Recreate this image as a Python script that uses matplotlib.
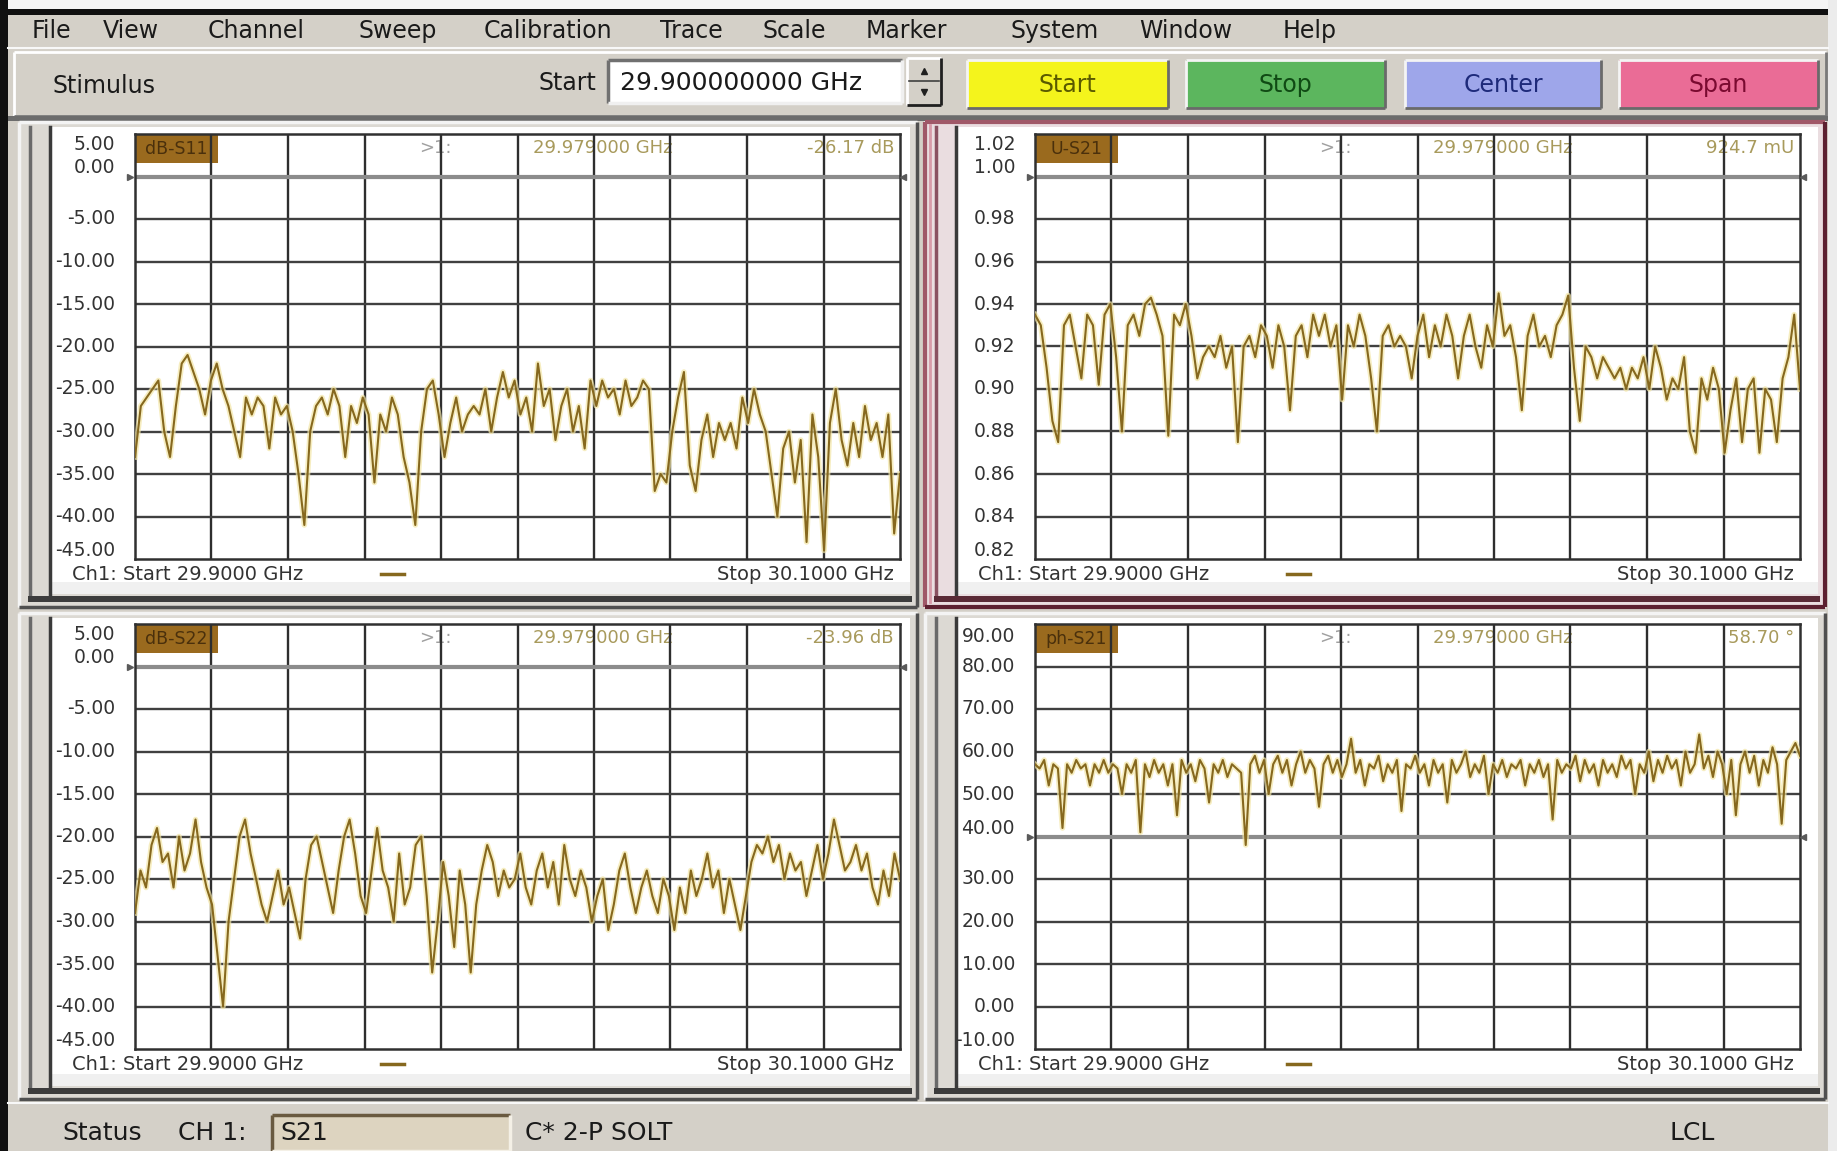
import numpy as np
import matplotlib
matplotlib.use('Agg')
import matplotlib.pyplot as plt
from matplotlib.patches import Rectangle
import matplotlib.transforms as mtransforms

# ---------------- data ----------------
f_start, f_stop = 29.9, 30.1

s11_db = [-33, -27, -26, -25, -24, -30, -33, -27, -22, -21, -23, -25, -28, -24, -22, -25, -27, -30, -33, -26,
          -28, -26, -27, -32, -26, -28, -27, -30, -35, -41, -30, -27, -26, -28, -25, -27, -33, -27, -29, -26,
          -28, -36, -28, -30, -26, -28, -33, -36, -41, -30, -25, -24, -28, -33, -29, -26, -30, -28, -27, -28,
          -25, -30, -26, -23, -26, -24, -28, -26, -30, -22, -27, -25, -31, -27, -25, -30, -27, -32, -24, -27,
          -24, -26, -25, -28, -24, -27, -26, -24, -25, -37, -35, -36, -30, -26, -23, -34, -37, -31, -28, -33,
          -29, -31, -29, -32, -26, -29, -25, -28, -30, -35, -40, -32, -30, -36, -31, -43, -28, -33, -44, -29,
          -25, -31, -34, -29, -33, -27, -31, -29, -33, -28, -42, -35]

s21_lin = [0.935, 0.930, 0.910, 0.885, 0.875, 0.930, 0.935, 0.920, 0.905, 0.935, 0.930, 0.902, 0.935, 0.940,
           0.915, 0.880, 0.930, 0.935, 0.925, 0.940, 0.943, 0.935, 0.925, 0.878, 0.935, 0.930, 0.940, 0.925,
           0.905, 0.915, 0.920, 0.915, 0.925, 0.910, 0.920, 0.875, 0.920, 0.925, 0.915, 0.930, 0.925, 0.910,
           0.930, 0.920, 0.890, 0.925, 0.930, 0.915, 0.935, 0.925, 0.935, 0.920, 0.930, 0.895, 0.930, 0.920,
           0.935, 0.925, 0.905, 0.880, 0.925, 0.930, 0.920, 0.925, 0.920, 0.905, 0.925, 0.935, 0.915, 0.930,
           0.920, 0.935, 0.925, 0.905, 0.925, 0.935, 0.920, 0.910, 0.930, 0.920, 0.945, 0.925, 0.930, 0.915,
           0.890, 0.925, 0.935, 0.920, 0.925, 0.915, 0.930, 0.935, 0.944, 0.910, 0.885, 0.920, 0.915, 0.905,
           0.915, 0.910, 0.905, 0.910, 0.900, 0.910, 0.905, 0.915, 0.900, 0.920, 0.910, 0.895, 0.905, 0.900,
           0.915, 0.880, 0.870, 0.905, 0.895, 0.910, 0.900, 0.870, 0.890, 0.905, 0.875, 0.900, 0.905, 0.870,
           0.900, 0.895, 0.875, 0.905, 0.915, 0.935, 0.900]

s22_db = [-29, -24, -26, -21, -19, -23, -22, -26, -20, -24, -22, -18, -23, -26, -28, -34, -40, -30, -25, -20,
          -18, -22, -25, -28, -30, -27, -24, -28, -26, -29, -32, -25, -21, -20, -23, -26, -29, -24, -20, -18,
          -22, -27, -29, -24, -19, -24, -26, -30, -22, -28, -26, -21, -20, -27, -36, -30, -23, -27, -33, -24,
          -28, -36, -28, -24, -21, -23, -27, -24, -26, -25, -22, -26, -28, -24, -22, -26, -23, -28, -21, -25,
          -27, -24, -26, -30, -27, -25, -31, -28, -24, -22, -26, -29, -26, -24, -27, -29, -25, -27, -31, -26,
          -29, -24, -27, -25, -22, -26, -24, -29, -25, -28, -31, -27, -23, -21, -22, -20, -23, -21, -25, -22,
          -24, -23, -27, -24, -21, -25, -22, -18, -21, -24, -23, -21, -24, -22, -26, -28, -24, -27, -22, -25]

s21_phase = [57, 56, 58, 52, 57, 56, 42, 57, 55, 58, 56, 57, 52, 57, 55, 58, 55, 57, 56, 50,
             57, 55, 58, 41, 57, 54, 58, 55, 57, 52, 57, 45, 58, 55, 57, 53, 58, 56, 48, 57,
             55, 58, 54, 57, 56, 55, 38, 57, 59, 55, 58, 50, 57, 59, 55, 58, 52, 57, 60, 55,
             58, 56, 47, 57, 59, 55, 58, 54, 57, 63, 55, 58, 52, 57, 56, 59, 53, 57, 55, 58,
             46, 57, 56, 59, 55, 57, 52, 58, 55, 57, 48, 58, 55, 57, 60, 54, 57, 55, 59, 50,
             57, 55, 58, 54, 57, 56, 58, 52, 57, 55, 58, 54, 57, 44, 58, 55, 57, 56, 59, 53,
             58, 55, 57, 52, 58, 55, 57, 54, 59, 56, 58, 50, 57, 55, 60, 53, 58, 55, 59, 56,
             58, 52, 60, 55, 57, 64, 56, 59, 54, 60, 57, 50, 58, 45, 57, 60, 55, 59, 52, 58,
             55, 61, 57, 43, 58, 60, 62, 59]

menu_items = ["File", "View", "Channel", "Sweep", "Calibration", "Trace", "Scale", "Marker", "System",
              "Window", "Help"]
button_labels = ["Start", "Stop", "Center", "Span"]

panel_titles = ["dB-S11", "U-S21", "dB-S22", "ph-S21"]
marker_freq = "29.979000 GHz"
marker_values = ["-26.17 dB", "924.7 mU", "-23.96 dB", "58.70 \u00b0"]
tick_dbm = [5, 0, -5, -10, -15, -20, -25, -30, -35, -40, -45]
tick_lin = [1.02, 1.00, 0.98, 0.96, 0.94, 0.92, 0.90, 0.88, 0.86, 0.84, 0.82]
tick_ph = [90, 80, 70, 60, 50, 40, 30, 20, 10, 0, -10]

# ---------------- layout ----------------
W, H = 1837, 1151
fig = plt.figure(figsize=(W / 100, H / 100), dpi=100)
fig.patch.set_facecolor('#d4d0c8')
bg = fig.add_axes([0, 0, 1, 1])
bg.set_xlim(0, W)
bg.set_ylim(H, 0)
bg.axis('off')
bg.set_zorder(0)

FONT = 'DejaVu Sans'


def rect(x0, y0, x1, y1, fc, ec='none', lw=0, z=1):
    bg.add_patch(Rectangle((x0, y0), x1 - x0, y1 - y0, facecolor=fc, edgecolor=ec, linewidth=lw, zorder=z))


def bevel(x0, y0, x1, y1, light='#ffffff', dark='#808080', lw=2.0, z=2):
    bg.plot([x0, x1], [y0, y0], color=light, lw=lw, zorder=z, solid_capstyle='butt')
    bg.plot([x0, x0], [y0, y1], color=light, lw=lw, zorder=z, solid_capstyle='butt')
    bg.plot([x0, x1], [y1, y1], color=dark, lw=lw, zorder=z, solid_capstyle='butt')
    bg.plot([x1, x1], [y0, y1], color=dark, lw=lw, zorder=z, solid_capstyle='butt')


# window edges
rect(0, 0, W, 9, '#f4f4f4', z=1)
rect(0, 9, W, 15, '#101010', z=2)
rect(0, 0, 8, H, '#101010', z=2)
rect(1828, 0, W, H, '#ececec', z=2)

# menu bar
menu_x = [32, 103, 208, 358, 484, 660, 763, 866, 1011, 1139, 1283]
for lbl, x in zip(menu_items, menu_x):
    bg.text(x, 31, lbl, fontsize=17, family=FONT, color='#1a1a1a', va='center', ha='left', zorder=3)
bg.plot([8, 1828], [48, 48], color='#f8f8f8', lw=1.5, zorder=2)

# toolbar
rect(14, 52, 1826, 116, '#d4d0c8', z=1)
bevel(14, 52, 1826, 116, light='#ffffff', dark='#7a7a7a', lw=2)
bg.text(52, 86, "Stimulus", fontsize=17, family=FONT, color='#1a1a1a', va='center', zorder=3)
bg.text(596, 83, "Start", fontsize=17, family=FONT, color='#1a1a1a', va='center', ha='right', zorder=3)
rect(608, 60, 902, 103, '#ffffff', z=2)
bevel(608, 60, 902, 103, light='#707070', dark='#f0f0f0', lw=2.5, z=3)
bg.text(620, 83, "29.900000000 GHz", fontsize=18, family=FONT, color='#1a1a1a', va='center', zorder=4)
rect(907, 58, 941, 105, '#d4d0c8', z=2)
bevel(907, 58, 941, 105, light='#ffffff', dark='#202020', lw=2, z=3)
bg.plot([909, 939], [81, 81], color='#404040', lw=1.2, zorder=3)
bg.plot([924], [71], marker='^', ms=5, color='#202020', zorder=4)
bg.plot([924], [92], marker='v', ms=5, color='#202020', zorder=4)

btn_x = [(967, 1168), (1186, 1385), (1405, 1601), (1619, 1818)]
btn_fc = ['#f4f41c', '#5cb65e', '#9ea6ea', '#ea6c96']
btn_tc = ['#5a5a00', '#104a14', '#1e2a7a', '#7a0a30']
for lbl, (x0, x1), fc, tc in zip(button_labels, btn_x, btn_fc, btn_tc):
    rect(x0, 60, x1, 108, fc, z=2)
    bevel(x0, 60, x1, 108, light='#f4f4f4', dark='#6a6a6a', lw=2, z=3)
    bg.text((x0 + x1) / 2, 85, lbl, fontsize=17, family=FONT, color=tc, va='center', ha='center', zorder=4)

rect(8, 116, 1828, 121, '#6c6c6c', z=2)

# panels
panels = [
    dict(frame=(18, 121, 918, 608), grid=(135, 134, 900, 559), active=False),
    dict(frame=(924, 121, 1826, 608), grid=(1035, 134, 1800, 559), active=True),
    dict(frame=(18, 612, 918, 1100), grid=(135, 624, 900, 1049), active=False),
    dict(frame=(924, 612, 1826, 1100), grid=(1035, 624, 1800, 1049), active=False),
]

series = [s11_db, s21_lin, s22_db, s21_phase]
ticks = [tick_dbm, tick_lin, tick_dbm, tick_ph]
ref_vals = [0, 1.00, 0, 40]
# per-panel vertical nudges (pixels, up positive) for labels that would collide
label_nudge = [
    {0: -11, 1: 9, 10: 9},
    {0: -11, 1: 9, 10: 9},
    {0: -11, 1: 9, 10: 9},
    {0: -13, 5: 8, 10: 8},
]

for i, p in enumerate(panels):
    fx0, fy0, fx1, fy1 = p['frame']
    gx0, gy0, gx1, gy1 = p['grid']
    gw, gh = gx1 - gx0, gy1 - gy0
    # frame
    if p['active']:
        rect(fx0, fy0, fx1, fy1, '#eadde0', z=1)
        bevel(fx0 + 1, fy0 + 1, fx1 - 1, fy1 - 1, light='#a05868', dark='#5c2030', lw=3, z=2)
        bg.plot([fx0 + 6, fx0 + 6], [fy0 + 4, fy1 - 6], color='#d89aa8', lw=2, zorder=2)
    else:
        rect(fx0, fy0, fx1, fy1, '#dcd9d3', z=1)
        bevel(fx0 + 1, fy0 + 1, fx1 - 1, fy1 - 1, light='#f4f4f4', dark='#505050', lw=2.5, z=2)
    ix0, iy0, ix1, iy1 = fx0 + 32, fy0 + 6, fx1 - 8, fy1 - 14
    rect(ix0, iy0, ix1, iy1, '#ffffff', z=2)
    side_c = '#8a5060' if p['active'] else '#6a6a6a'
    bg.plot([fx0 + 12, fx0 + 12], [fy0 + 6, fy1 - 10], color=side_c, lw=2.5, zorder=3)
    bg.plot([ix0, ix0], [iy0, iy1], color='#3a3a3a', lw=2.5, zorder=3)
    bar_c = '#5a2a36' if p['active'] else '#3c3c3c'
    rect(fx0 + 10, fy1 - 12, fx1 - 6, fy1 - 6, bar_c, z=3)
    rect(ix0 + 2, iy1 - 12, ix1, iy1, '#f0f0f0', z=2.5)

    # plot axes
    ax = fig.add_axes([gx0 / W, 1 - gy1 / H, gw / W, gh / H])
    ax.set_zorder(5)
    ax.set_facecolor('#ffffff')
    tk = ticks[i]
    ax.set_xlim(f_start, f_stop)
    ax.set_ylim(tk[-1], tk[0])
    ax.set_xticks([])
    ax.set_yticks([])
    for s in ax.spines.values():
        s.set_color('#303030')
        s.set_linewidth(1.8)
    for xv in np.linspace(f_start, f_stop, 11)[1:-1]:
        ax.axvline(xv, color='#2e2e2e', lw=1.7, zorder=2)
    for yv in tk[1:-1]:
        if yv == ref_vals[i]:
            continue
        ax.axhline(yv, color='#404040', lw=1.7, zorder=2)
    ax.axhline(ref_vals[i], color='#8c8c8c', lw=3.0, zorder=2.2)
    ax.plot([f_start - 0.0012], [ref_vals[i]], marker='>', ms=5, color='#5a5a5a', clip_on=False, zorder=6)
    ax.plot([f_stop + 0.0008], [ref_vals[i]], marker='<', ms=5, color='#5a5a5a', clip_on=False, zorder=6)

    vals = series[i]
    freq = np.linspace(f_start, f_stop, len(vals))
    ax.plot(freq, vals, color='#f3e6a6', lw=4.0, alpha=0.7, zorder=3)
    ax.plot(freq, vals, color='#86681e', lw=1.5, zorder=4)

    # header
    bw = 83 / gw
    bh = 29 / gh
    ax.add_patch(Rectangle((0, 1 - bh), bw, bh, transform=ax.transAxes, facecolor='#9a6a1e',
                           edgecolor='none', zorder=1.5))
    ax.text(bw / 2, 1 - bh / 2, panel_titles[i], transform=ax.transAxes, fontsize=12.5, family=FONT,
            color='#4a300c', ha='center', va='center', zorder=1.6)
    hy = 1 - 14 / gh
    ax.text(284 / gw, hy, ">1:", transform=ax.transAxes, fontsize=13, family=FONT,
            color='#a0a0a0', ha='left', va='center', zorder=1.6)
    ax.text(398 / gw, hy, marker_freq, transform=ax.transAxes, fontsize=13, family=FONT,
            color='#a89a5c', ha='left', va='center', zorder=1.6)
    ax.text(1 - 6 / gw, hy, marker_values[i], transform=ax.transAxes, fontsize=13, family=FONT,
            color='#a89a5c', ha='right', va='center', zorder=1.6)

    # y labels
    trans = mtransforms.blended_transform_factory(bg.transData, ax.transData)
    for k, v in enumerate(tk):
        dy = label_nudge[i].get(k, 0)
        t = mtransforms.offset_copy(trans, fig=fig, x=0, y=dy, units='dots')
        bg.text(gx0 - 20, v, '{:.2f}'.format(v), transform=t, fontsize=13.5, family=FONT,
                color='#333333', ha='right', va='center', zorder=6, clip_on=False)

    # footer
    ty = gy1 + 15
    bg.text(fx0 + 54, ty, "Ch1: Start 29.9000 GHz", fontsize=14, family=FONT, color='#333333',
            va='center', ha='left', zorder=6)
    bg.plot([fx0 + 363, fx0 + 386], [ty, ty], color='#86681e', lw=2.5, zorder=6)
    bg.text(gx1 - 6, ty, "Stop 30.1000 GHz", fontsize=14, family=FONT, color='#333333',
            va='center', ha='right', zorder=6)

# status bar
rect(8, 1102, 1828, H, '#d4d0c8', z=1)
bg.plot([8, 1828], [1103, 1103], color='#f8f8f8', lw=1.5, zorder=2)
bg.text(62, 1133, "Status", fontsize=18, family=FONT, color='#1a1a1a', va='center', zorder=3)
bg.text(178, 1133, "CH 1:", fontsize=18, family=FONT, color='#1a1a1a', va='center', zorder=3)
rect(272, 1115, 510, H, '#ddd4c0', z=2)
bevel(272, 1115, 510, H, light='#6a5a40', dark='#f4f0e6', lw=2.5, z=3)
bg.text(280, 1133, "S21", fontsize=18, family=FONT, color='#1a1a1a', va='center', zorder=4)
bg.text(525, 1133, "C* 2-P SOLT", fontsize=18, family=FONT, color='#1a1a1a', va='center', zorder=3)
bg.text(1669, 1133, "LCL", fontsize=18, family=FONT, color='#1a1a1a', va='center', zorder=3)

fig.savefig('out.png', dpi=100, facecolor=fig.get_facecolor())
